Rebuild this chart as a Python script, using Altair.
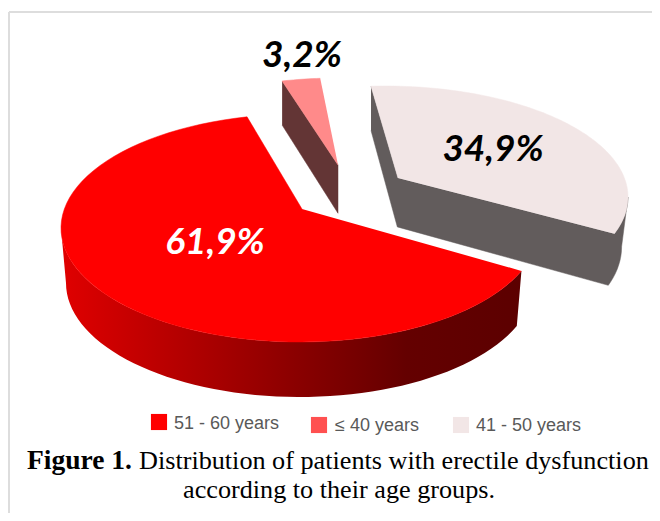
import math
import altair as alt
import pandas as pd

groups = ["51 - 60 years", "≤ 40 years", "41 - 50 years"]
shares = [61.9, 3.2, 34.9]
labels = ["61,9%", "3,2%", "34,9%"]
top_colors = ["#FF0000", "#FF8A8A", "#F2E6E6"]
legend_colors = ["#FF0000", "#FF5050", "#F2E6E6"]
side_colors = ["#800000", "#633535", "#625C5C"]
caption_bold = "Figure 1."
caption_1 = "Distribution of patients with erectile dysfunction"
caption_2 = "according to their age groups."

W, H = 644, 505
SX = alt.Scale(domain=[8, 8 + W])
SY = alt.Scale(domain=[8 + H, 8])
X = alt.X("x:Q", scale=SX, axis=None)
Y = alt.Y("y:Q", scale=SY, axis=None)


def ell(cx, cy, a, b, t):
    r = math.radians(t)
    return (cx + a * math.sin(r), cy - b * math.cos(r))


def arc(cx, cy, a, b, t0, t1, n=80):
    return [ell(cx, cy, a, b, t0 + (t1 - t0) * i / n) for i in range(n + 1)]


def poly(points, fill, stroke=None):
    df = pd.DataFrame([{"x": p[0], "y": p[1], "i": i} for i, p in enumerate(points)])
    return alt.Chart(df).mark_line(
        fill=fill, stroke=stroke or (fill if isinstance(fill, str) else "transparent"),
        strokeWidth=0.5, clip=False
    ).encode(x=X, y=Y, order=alt.Order("i:Q"))


def depth(y):
    return 40 + 0.05 * y


# red slice
E0 = (300, 228, 239, 114)
E0b = (300, 283, 234, 114)
r_t0 = -12.8
r_t1 = r_t0 - shares[0] * 3.6 * 1.055
r_tip = (302, 209)
r_arc = arc(*E0, r_t0, r_t1)
wall_top = arc(*E0, -90, r_t1, 60)
wall_bot = arc(*E0b, r_t1, -90, 60)
grad = alt.Gradient(
    gradient="linear", x1=0, x2=1, y1=0, y2=0,
    stops=[
        alt.GradientStop(color="#E00000", offset=0),
        alt.GradientStop(color="#BE0000", offset=0.2),
        alt.GradientStop(color="#8C0000", offset=0.5),
        alt.GradientStop(color="#640000", offset=0.75),
        alt.GradientStop(color="#5C0000", offset=1),
    ],
)
red_wall = poly(wall_top + wall_bot, grad)
red_top = poly([r_tip] + r_arc, top_colors[0])

# pink slice
Ep = (338, 189, 243, 111)
p_t0 = -13.3
p_t1 = p_t0 + shares[1] * 3.6 * 0.79
p_tip = (338, 165)
p_arc = arc(*Ep, p_t0, p_t1, 10)
ps = p_arc[0]
pink_wall = poly([ps, p_tip, (p_tip[0], p_tip[1] + depth(p_tip[1])), (ps[0], ps[1] + depth(ps[1]))], side_colors[1])
pink_top = poly([p_tip] + p_arc, top_colors[1])

# grey slice
Eg = (385, 197, 243, 111)
g_t0 = -3.3
g_t1 = g_t0 + shares[2] * 3.6 * 0.896
g_tip = (398, 178)
g_arc = arc(*Eg, g_t0, g_t1)


def low(p):
    return (p[0] - 0.025 * (p[0] - 371), p[1] + depth(p[1]))


rim = arc(*Eg, 90, g_t1, 30)
gs = g_arc[0]
ge = g_arc[-1]
grey_wall = poly(
    [gs, g_tip, ge] + rim[::-1] + [low(p) for p in rim] + [low(g_tip), low(gs)],
    side_colors[2],
)
grey_top = poly([g_tip] + g_arc, top_colors[2])

# value labels
lab_df = pd.DataFrame({
    "x": [215, 302, 493], "y": [243, 56, 150], "t": labels,
    "c": ["white", "black", "black"],
})
lab = alt.Chart(lab_df).mark_text(
    font="Lato", fontSize=37, fontWeight="bold", fontStyle="italic", align="center", baseline="middle"
).encode(x=X, y=Y, text="t:N", color=alt.Color("c:N", scale=None))

# legend
leg_df = pd.DataFrame({
    "x": [159, 319, 461], "y": [422, 425, 425], "tx": [174, 335, 476], "ty": [424, 426, 426],
    "t": groups, "c": legend_colors,
})
leg_sq = alt.Chart(leg_df).mark_point(shape="square", filled=True, size=260, opacity=1).encode(
    x=X, y=Y, color=alt.Color("c:N", scale=None)
)
leg_tx = alt.Chart(leg_df).mark_text(
    font="Liberation Sans", fontSize=18, align="left", baseline="middle", color="#595959"
).encode(x=alt.X("tx:Q", scale=SX, axis=None), y=alt.Y("ty:Q", scale=SY, axis=None), text="t:N")

# caption
cap_df = pd.DataFrame({
    "x": [27, 139, 339], "y": [469, 469, 498], "t": [caption_bold, caption_1, caption_2],
    "w": ["bold", "normal", "normal"], "a": ["left", "left", "center"], "s": [27.5, 26.2, 26.2],
})
cap = []
for _, r in cap_df.iterrows():
    cap.append(alt.Chart(cap_df[cap_df.t == r.t]).mark_text(
        font="Liberation Serif", fontSize=r.s, fontWeight=r.w, align=r.a, baseline="alphabetic", color="black"
    ).encode(x=X, y=Y, text="t:N"))

# frame
frame_v = pd.DataFrame({"x": [9], "y": [12], "y2": [513]})
frame_h = pd.DataFrame({"x": [9], "x2": [652], "y": [12]})
fv = alt.Chart(frame_v).mark_rule(color="#DDDDDD", strokeWidth=2).encode(x=X, y=Y, y2="y2:Q")
fh = alt.Chart(frame_h).mark_rule(color="#DDDDDD", strokeWidth=2).encode(x=X, x2="x2:Q", y=Y)

chart = alt.layer(
    fv, fh, grey_wall, grey_top, pink_wall, pink_top, red_wall, red_top,
    lab, leg_sq, leg_tx, *cap
).properties(width=W, height=H, padding=0, background="white",
             autosize=alt.AutoSizeParams(type="none")).configure_view(stroke=None)

chart.save("out.html", embed_options={"renderer": "svg", "actions": False})
